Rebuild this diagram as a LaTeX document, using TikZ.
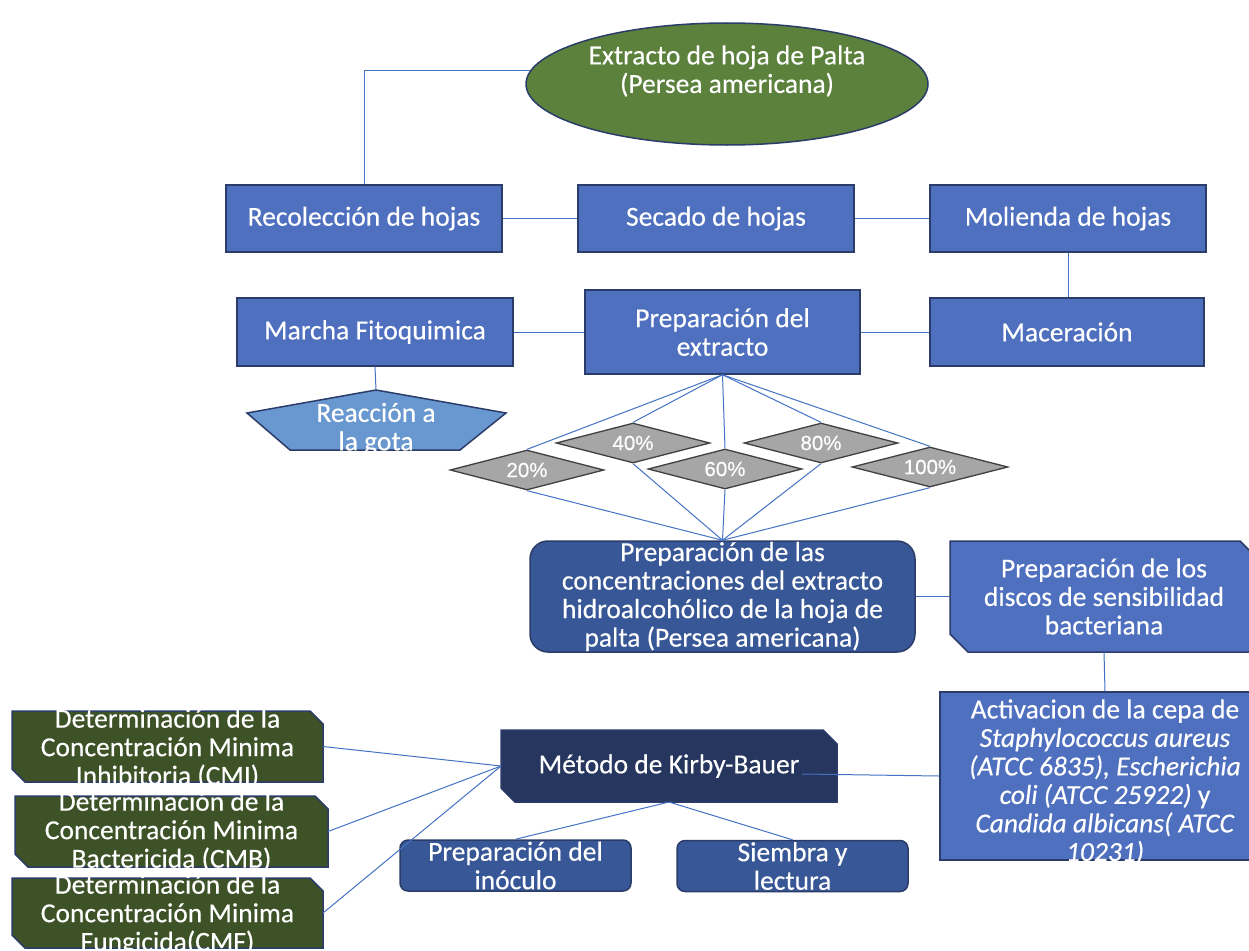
\documentclass[tikz,border=0pt]{standalone}
\usepackage{fontspec}
\setmainfont{Carlito}[FakeBold=0.3]
\newfontfamily\arialf{Liberation Sans}[FakeBold=0.3]
\usetikzlibrary{shapes.geometric}
\definecolor{boxblue}{RGB}{79,112,190}
\definecolor{boxedge}{RGB}{44,60,105}
\definecolor{leafgreen}{RGB}{92,129,60}
\definecolor{pentblue}{RGB}{104,152,207}
\definecolor{dmdgray}{RGB}{166,166,166}
\definecolor{dmdedge}{RGB}{64,64,64}
\definecolor{concblue}{RGB}{56,87,150}
\definecolor{kbnavy}{RGB}{38,54,94}
\definecolor{boxgreen}{RGB}{62,82,40}
\definecolor{linkblue}{RGB}{68,114,196}
\pgfdeclarelayer{back}
\pgfdeclarelayer{bg}
\pgfsetlayers{back,bg,main}
\newcommand\chamfpoly[3]{%
  \begin{pgfonlayer}{bg}
  \path[draw=boxedge,line width=1.5pt,fill=#3] (#1.north west) -- ([xshift=-#2]#1.north east)
    -- ([yshift=-#2]#1.north east) -- (#1.south east) -- ([xshift=#2]#1.south west)
    -- ([yshift=#2]#1.south west) -- cycle;
  \end{pgfonlayer}}
\begin{document}
\begin{tikzpicture}[x=1pt,y=-1pt,
  txt/.style={text=white,font=\fontsize{27.5}{28.5}\selectfont,align=center,inner sep=0pt},
  bluebox/.style={rectangle,draw=boxedge,line width=1.5pt,fill=boxblue,inner sep=0pt,txt},
  link/.style={draw=linkblue,line width=1pt},
  pct/.style={diamond,aspect=4,draw=dmdedge,line width=1.3pt,fill=dmdgray,inner sep=0pt,
    minimum width=154,minimum height=40,text=white,font=\arialf\fontsize{20.5}{22}\selectfont},
  frame/.style={rectangle,inner sep=0pt,outer sep=0pt},
  greenbox/.style={frame,minimum width=311,minimum height=71},
  smallround/.style={rectangle,rounded corners=8pt,draw=boxedge,line width=1.5pt,fill=concblue,
    inner sep=0pt,minimum width=231,minimum height=51}
]
\useasboundingbox (0,0) rectangle (1249,950);
\begin{pgfonlayer}{back}
\fill[white] (0,0) rectangle (1249,950);
\end{pgfonlayer}

% top ellipse
\node[ellipse,draw=boxedge,line width=1.5pt,fill=leafgreen,minimum width=402,minimum height=122,inner sep=0pt,
  label={[txt,yshift=13pt]center:Extracto de hoja de Palta\\(Persea americana)}] (el) at (727,84) {};

% row 1
\node[bluebox,minimum width=276,minimum height=67] (rec) at (364,218.5) {Recolección de hojas};
\node[bluebox,minimum width=276,minimum height=67] (sec) at (716,218.5) {Secado de hojas};
\node[bluebox,minimum width=276,minimum height=67] (mol) at (1068,218.5) {Molienda de hojas};

% row 2
\node[bluebox,minimum width=276,minimum height=68] (mar) at (375,332) {Marcha Fitoquimica};
\node[bluebox,minimum width=275,minimum height=84] (pe) at (722.5,332) {Preparación del\\extracto};
\node[bluebox,minimum width=274,minimum height=68] (mac) at (1067,332) {Maceración};

% pentagon
\path[draw=boxedge,line width=1.5pt,fill=pentblue] (376,390) -- (506,413) -- (460,450) -- (290,450) -- (247,413) -- cycle;
\coordinate (pgtop) at (376,390);
\node[txt] (pg) at (376,429) {Reacción a\\la gota};

% diamonds
\node[pct] (d20) at (527,470) {20\%};
\node[pct] (d40) at (633,443) {40\%};
\node[pct] (d60) at (725,469) {60\%};
\node[pct] (d80) at (821,443) {80\%};
\node[pct,minimum width=156] (d100) at (930,467) {100\%};

% concentrations
\node[rectangle,rounded corners=18pt,draw=boxedge,line width=1.5pt,fill=concblue,minimum width=385,minimum height=111,inner sep=0pt,
  label={[txt]center:Preparación de las\\concentraciones del extracto\\hidroalcohólico de la hoja de\\palta (Persea americana)}] (conc) at (722.5,596.5) {};

\node[frame,minimum width=308,minimum height=111,
  label={[txt]center:Preparación de los\\discos de sensibilidad\\bacteriana}] (dis) at (1104,596.5) {};
\chamfpoly{dis}{18pt}{boxblue}

\node[rectangle,draw=boxedge,line width=1.5pt,fill=boxblue,minimum width=330,minimum height=168,inner sep=0pt,
  label={[txt,yshift=-6pt]center:Activacion de la cepa de\\\textit{Staphylococcus aureus}\\\textit{(ATCC 6835), Escherichia}\\\textit{coli (ATCC 25922)} y\\\textit{Candida albicans( ATCC}\\\textit{10231)}}] (act) at (1105,776) {};

% Kirby-Bauer
\node[frame,minimum width=336,minimum height=72,txt] (kb) at (669,766) {Método de Kirby-Bauer};
\chamfpoly{kb}{14pt}{kbnavy}
\coordinate (kbt) at (802,774);

% green boxes
\node[greenbox,label={[txt,yshift=-2pt]center:Determinación de la\\Concentración Minima\\Inhibitoria (CMI)}] (cmi) at (167.5,746.5) {};
\chamfpoly{cmi}{13pt}{boxgreen}
\node[greenbox,minimum width=313,label={[txt]center:Determinación de la\\Concentración Minima\\Bactericida (CMB)}] (cmb) at (171.5,831.5) {};
\chamfpoly{cmb}{13pt}{boxgreen}
\node[greenbox,minimum height=70,label={[txt,yshift=-2pt]center:Determinación de la\\Concentración Minima\\Fungicida(CMF)}] (cmf) at (167.5,913) {};
\chamfpoly{cmf}{13pt}{boxgreen}

% bottom boxes
\node[smallround,label={[txt]center:Preparación del\\inóculo}] (ino) at (515.5,865.5) {};
\node[smallround,label={[txt]center:Siembra y\\lectura}] (sie) at (792.5,866) {};

% connectors
\draw[link] (el.176) -| (rec.north);
\draw[link] (rec.east) -- (sec.west);
\draw[link] (sec.east) -- (mol.west);
\draw[link] (mol.south) -- (mol.south |- mac.north);
\draw[link] (mar.east) -- (pe.west);
\draw[link] (pe.east) -- (mac.west);
\draw[link] (mar.south) -- (pgtop);
\foreach \d in {d20,d40,d60,d80,d100}{
  \draw[link] (pe.south) -- (\d.north);
  \draw[link] (\d.south) -- (conc.north);
}
\draw[link] (conc.east) -- (dis.west);
\draw[link] (dis.south) -- (act.north);
\draw[link] (kbt) -- (act.west);
\draw[link] (cmi.east) -- (kb.west);
\draw[link] (cmb.east) -- (kb.west);
\draw[link] (cmf.east) -- (kb.west);
\draw[link] (kb.south) -- (ino.north);
\draw[link] (kb.south) -- (sie.north);
\end{tikzpicture}
\end{document}
